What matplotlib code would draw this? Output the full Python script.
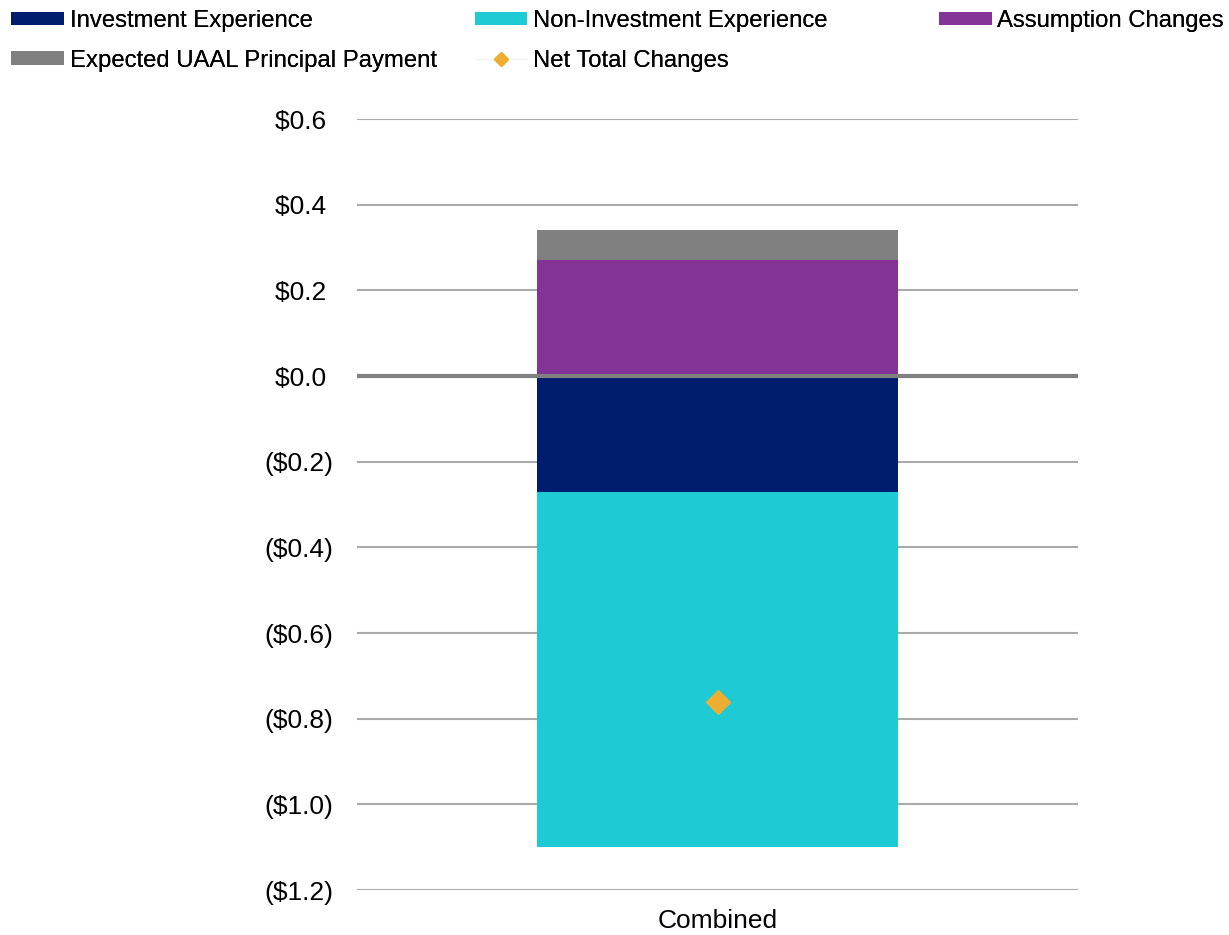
import matplotlib.pyplot as plt
from matplotlib.patches import Patch
from matplotlib.lines import Line2D
from matplotlib.ticker import FuncFormatter

plt.rcParams['font.family'] = ['Liberation Sans', 'DejaVu Sans']

categories = ['Combined']
investment = [-0.27]
non_investment = [-0.83]
assumption = [0.27]
uaal_payment = [0.07]
net_total = [-0.76]

c_inv = '#001c6e'
c_noninv = '#1ecad4'
c_assump = '#843396'
c_uaal = '#808080'
c_net = '#eeae31'

fig = plt.figure(figsize=(12.29, 9.35), dpi=100)
ax = fig.add_axes([0.2905, 0.0481, 0.5867, 0.8246])

x = range(len(categories))
w = 0.5
# negative pieces stack downward from zero, positive pieces upward
ax.bar(x, investment, w, color=c_inv, zorder=2)
ax.bar(x, non_investment, w, bottom=investment, color=c_noninv, zorder=2)
ax.bar(x, assumption, w, color=c_assump, zorder=2)
ax.bar(x, uaal_payment, w, bottom=assumption, color=c_uaal, zorder=2)
ax.plot(x, net_total, linestyle='none', marker='D', markersize=12.5,
        color=c_net, zorder=4)

ax.set_xlim(-0.5, 0.5)
ax.set_ylim(-1.2, 0.6)
ax.set_yticks([i * 0.2 for i in range(-6, 4)])


def money(v, pos):
    v = round(v, 1)
    if v < 0:
        return '(${:.1f})'.format(-v)
    return '${:.1f} '.format(v)


ax.yaxis.set_major_formatter(FuncFormatter(money))
ax.set_xticks(list(x))
ax.set_xticklabels(categories)
ax.tick_params(axis='y', length=0, pad=17, labelsize=19)
ax.tick_params(axis='x', length=0, pad=14, labelsize=19)
ax.grid(axis='y', color='#aaaaaa', linewidth=1.5, zorder=0)
ax.axhline(0, color='#808080', linewidth=3, zorder=3)
for s in ax.spines.values():
    s.set_visible(False)

# legend laid out in three fixed columns across the top
leg_kw = dict(loc='upper left', frameon=False, fontsize=17.2, borderpad=0,
              borderaxespad=0, handlelength=2.2, handleheight=0.5,
              handletextpad=0.25, labelspacing=0.74)
cols = [
    (0.009, [Patch(facecolor=c_inv, linewidth=0),
             Patch(facecolor=c_uaal, linewidth=0)],
     ['Investment Experience', 'Expected UAAL Principal Payment']),
    (0.3864, [Patch(facecolor=c_noninv, linewidth=0),
              Line2D([], [], color='#f4f4f4', linewidth=1, marker='D',
                     markersize=7, markerfacecolor=c_net,
                     markeredgecolor=c_net)],
     ['Non-Investment Experience', 'Net Total Changes']),
    (0.764, [Patch(facecolor=c_assump, linewidth=0)], ['Assumption Changes']),
]
for xpos, handles, labels in cols:
    lg = fig.legend(handles, labels, bbox_to_anchor=(xpos, 0.9893), **leg_kw)
    fig.add_artist(lg)

fig.savefig('out.png', dpi=100)
